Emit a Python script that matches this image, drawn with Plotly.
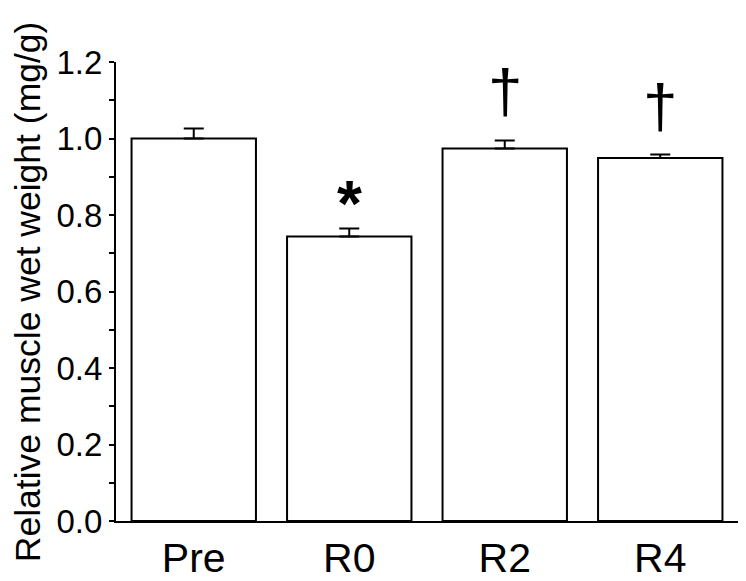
import plotly.graph_objects as go

groups = ["Pre", "R0", "R2", "R4"]
weight = [1.0, 0.744, 0.974, 0.949]
sem = [0.026, 0.021, 0.021, 0.009]

# significance marks: * vs Pre, dagger vs R0
marks = ["", "*", "†", "†"]
mark_y = [None, 0.829, 1.125, 1.086]

font = "Liberation Sans, Arial, sans-serif"

fig = go.Figure(go.Bar(
    x=groups, y=weight,
    marker=dict(color="white", line=dict(color="black", width=2)),
    error_y=dict(type="data", array=sem, arrayminus=[0] * len(sem), symmetric=False,
                 color="black", thickness=2, width=10),
))

for g, m, yy in zip(groups, marks, mark_y):
    if not m:
        continue
    fig.add_annotation(x=g, y=yy, text="<b>*</b>" if m == "*" else m, showarrow=False,
                       font=dict(family=font, size=64 if m == "*" else 62, color="black"),
                       xanchor="center", yanchor="middle")

# y title as a rotated annotation so it can sit closer to the edge
fig.add_annotation(xref="paper", yref="paper", x=-0.142, y=0.5, textangle=-90,
                   text="Relative muscle wet weight (mg/g)", showarrow=False,
                   font=dict(family=font, size=35.5, color="black"),
                   xanchor="center", yanchor="middle", borderpad=0)

# page body has an 8px margin, so the figure is a bit smaller than the window
fig.update_layout(
    width=738, height=573,
    margin=dict(l=108, r=8, t=54, b=60),
    plot_bgcolor="white", paper_bgcolor="white",
    bargap=0.2, showlegend=False,
    font=dict(family=font, color="black"),
)
fig.update_xaxes(showline=True, linecolor="black", linewidth=2, ticks="",
                 tickfont=dict(size=41), range=[-0.5, 3.5], showgrid=False,
                 automargin=False)
fig.update_yaxes(range=[0, 1.2], dtick=0.2, tickformat=".1f", showline=True,
                 linecolor="black", linewidth=2, ticks="outside", ticklen=5,
                 tickwidth=2, tickcolor="black", tickfont=dict(size=33),
                 minor=dict(dtick=0.1, ticks="outside", ticklen=5, tickwidth=2, tickcolor="black"),
                 showgrid=False, zeroline=False, automargin=False)

fig.write_html("out.html")
